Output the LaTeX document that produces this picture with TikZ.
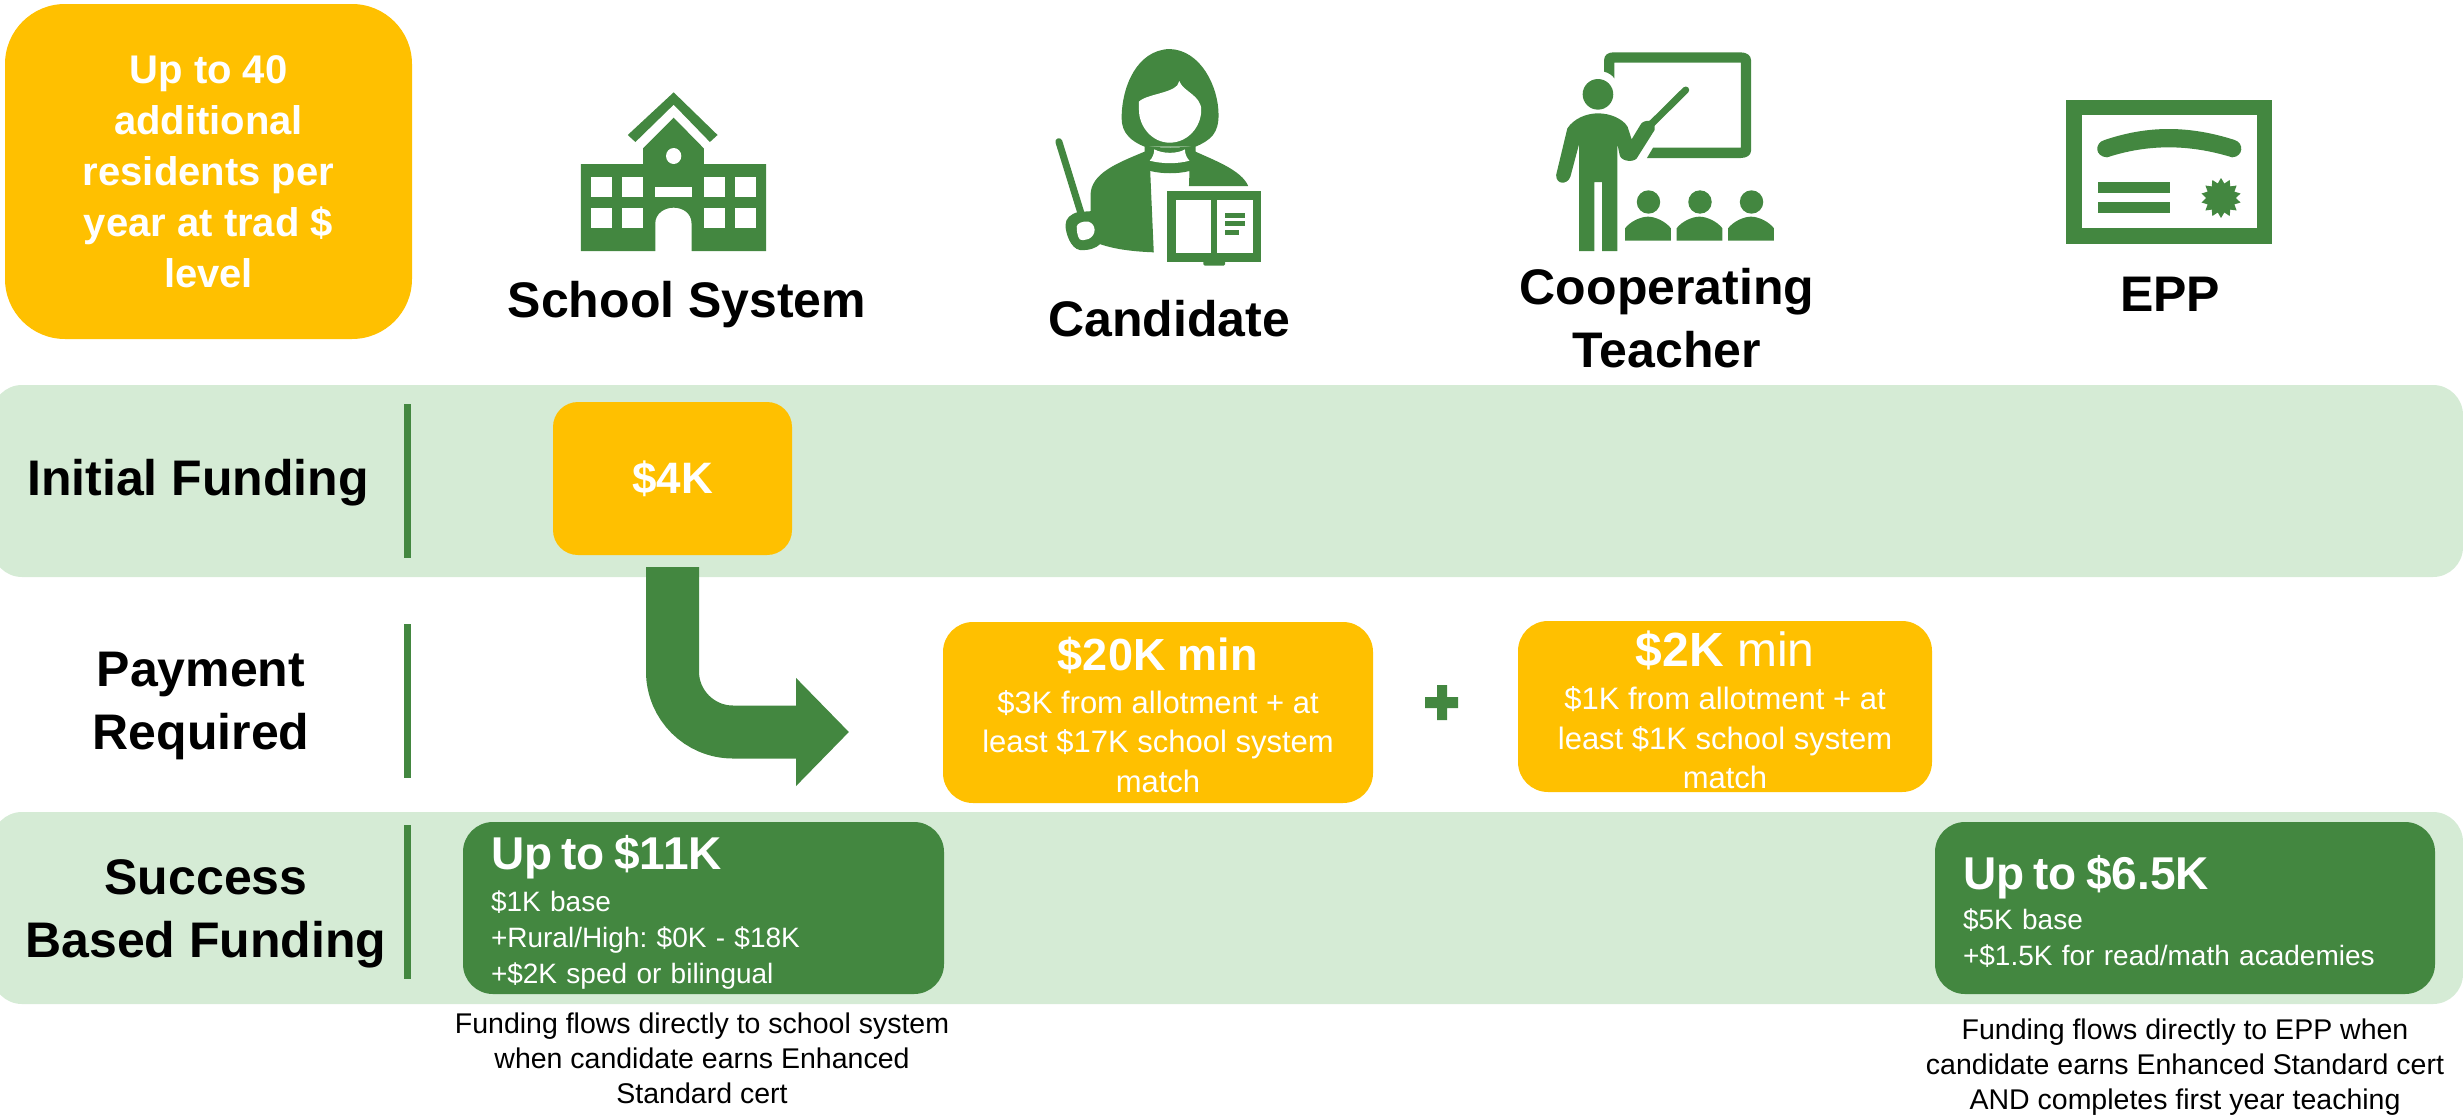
\documentclass[tikz,border=0pt]{standalone}
\usepackage{fontspec}
\setmainfont{Liberation Sans}
\usetikzlibrary{arrows.meta}
\usetikzlibrary{shapes.geometric}
\frenchspacing
\definecolor{leafgreen}{HTML}{438740}
\definecolor{paleband}{HTML}{D5EBD5}
\definecolor{amberbox}{HTML}{FFC000}
\tikzset{
  band/.style={fill=paleband,rounded corners=30,inner sep=0,minimum width=2471,minimum height=192},
  vbar/.style={fill=leafgreen,inner sep=0,minimum width=7,minimum height=154},
  amber/.style={fill=amberbox,text=white,inner sep=0,align=center,font=\fontsize{31}{39.5}\selectfont},
  leaf/.style={fill=leafgreen,text=white,inner sep=0,rounded corners=30,align=left,font=\fontsize{28}{36}\selectfont},
  title/.style={text=black,inner sep=0,align=center,font=\fontsize{50}{63}\selectfont\bfseries},
  note/.style={text=black,inner sep=0,align=center,font=\fontsize{28.5}{35}\selectfont},
  blockarrow/.style={draw=leafgreen,line width=53,rounded corners=60.5,-{Triangle[length=53pt,width=105pt,fill=leafgreen]}},
  icon/.style={fill=leafgreen,draw=none},
  hole/.style={fill=white,draw=none},
  iconframe/.style={xscale=800/1568,yscale=1/3},
}
\newcommand{\headtext}[2]{\rule{0pt}{#1pt}{\fontsize{46}{50}\selectfont\bfseries #2}}
\begin{document}
\begin{tikzpicture}[x=1pt,y=-1pt]
      \useasboundingbox (0,0) rectangle (2463,1114);

      \node[band] (bandinitial) at (1227.5,481) {};
      \node[band] (bandsuccess) at (1227.5,908) {};
      \node[vbar] (barinitial) at (407,481) {};
      \node[vbar] (barpayment) at (407,701) {};
      \node[vbar] (barsuccess) at (407,902) {};

      \node[amber,rounded corners=60,minimum width=407,minimum height=335,font=\fontsize{40}{51}\selectfont\bfseries] (residents) at (208.5,171.5) {Up to 40\\additional\\residents per\\year at trad \$\\level};

      \node[title] (lblschool) at (687,305) {School System};
      \node[title] (lblcandidate) at (1169,319) {Candidate};
      \node[title] (lblteacher) at (1667,318) {Cooperating\\Teacher};
      \node[title] (lblepp) at (2170,294) {EPP};
      \node[title] (lblinitial) at (198,483) {Initial Funding};
      \node[title] (lblpayment) at (201,706) {Payment\\Required};
      \node[title] (lblsuccess) at (206,914) {Success\\Based Funding};

      \node[amber,rounded corners=25,minimum width=239,minimum height=153,font=\fontsize{44}{50}\selectfont\bfseries] (fourk) at (672.5,478.5) {\$4K};
      \node[amber,rounded corners=30,minimum width=430,minimum height=181] (twentyk) at (1158,712.5) {\rule{0pt}{38pt}{\fontsize{45}{50}\selectfont\bfseries \$20K min}\\[3pt]\$3K from allotment + at\\least \$17K school system\\match};
      \node[amber,rounded corners=30,minimum width=414,minimum height=171] (twok) at (1725,706.5) {\rule{0pt}{42pt}{\fontsize{48}{50}\selectfont\textbf{\$2K} min}\\[4pt]\$1K from allotment + at\\least \$1K school system\\match};

      \coordinate (arrowtip) at (849,732);
      \draw[blockarrow] ([yshift=-12]fourk.south) |- (arrowtip);

      \fill[icon] (1425,697) rectangle (1458,708) (1437,685) rectangle (1447,720);

      \node[leaf,minimum width=481,minimum height=172,text width=425] (schoolfunds) at (703.5,908) {\headtext{42}{Up to \$11K}\\[6pt]\$1K base\\+Rural/High: \$0K - \$18K\\+\$2K sped or bilingual};
      \node[leaf,minimum width=500,minimum height=172,text width=444] (eppfunds) at (2185,908) {\headtext{40}{Up to \$6.5K}\\[4pt]\$5K base\\+\$1.5K for read/math academies};

      \node[note] (noteschool) at (702,1058) {Funding flows directly to school system\\when candidate earns Enhanced\\Standard cert};
      \node[note] (noteepp) at (2185,1067) {Funding flows directly to EPP when\\candidate earns Enhanced Standard cert\\AND completes first year teaching};

      \begin{scope}[shift={(540,30)},iconframe]
        \fill[icon] (262,187) -- (348,315) -- (333,336) -- (262,224) -- (187,336) -- (172,315) -- cycle;
        \fill[icon] (80,402) -- (202,402) -- (202,355) -- (262,263) -- (321,355) -- (321,402) -- (443,402) -- (443,663) -- (297,663) -- (297,580) .. controls (297,550) and (280,533) .. (262,533) .. controls (244,533) and (226,550) .. (226,580) -- (226,663) -- (80,663) -- cycle;
        \fill[hole] (262,378) ellipse (15 and 24);
        \fill[hole] (226,471) rectangle (297,501);
        \foreach \wx/\wy in {100/440,161/440,321/440,382/440,100/533,161/533,321/533,382/533}
          \fill[hole] (\wx,\wy) rectangle +(41,61);
      \end{scope}

      \begin{scope}[shift={(540,30)},iconframe]
        \fill[icon] (1234,57) .. controls (1170,60) and (1140,170) .. (1140,265) .. controls (1140,310) and (1160,335) .. (1185,350) -- (1285,350) .. controls (1315,330) and (1330,310) .. (1330,255) .. controls (1330,170) and (1295,60) .. (1234,57) -- cycle;
        \fill[hole] (1174,215) .. controls (1190,190) and (1250,190) .. (1253,153) .. controls (1260,185) and (1296,195) .. (1296,240) .. controls (1296,290) and (1270,338) .. (1234,338) .. controls (1200,338) and (1174,290) .. (1174,240) -- cycle;
        \fill[icon] (1185,345) -- (1185,365) .. controls (1130,400) and (1080,430) .. (1079,495) -- (1079,610) -- (1097,642) .. controls (1130,660) and (1170,665) .. (1203,667) -- (1196,423) .. controls (1220,432) and (1250,432) .. (1273,423) -- (1272,468) -- (1388,468) .. controls (1375,420) and (1320,390) .. (1285,365) -- (1285,345) .. controls (1270,355) and (1200,355) .. (1185,345) -- cycle;
        \fill[hole] (1204,358) .. controls (1220,372) and (1250,372) .. (1264,358) .. controls (1264,372) and (1268,385) .. (1273,392) .. controls (1250,402) and (1220,402) .. (1195,392) .. controls (1200,385) and (1204,372) .. (1204,358) -- cycle;
        \draw[leafgreen,line width=7,line cap=round] (1017,335) -- (1060,548);
        \fill[icon] (1055,546) -- (1085,543) -- (1098,642) .. controls (1090,655) and (1075,662) .. (1058,660) .. controls (1040,655) and (1030,610) .. (1030,585) .. controls (1030,565) and (1040,552) .. (1055,546) -- cycle;
        \fill[hole] (1052,590) .. controls (1052,580) and (1065,572) .. (1075,575) .. controls (1090,582) and (1092,615) .. (1075,627) .. controls (1070,630) and (1062,632) .. (1058,628) .. controls (1053,620) and (1052,600) .. (1052,590) -- cycle;
        \fill[icon] (1229,484) rectangle (1414,695);
        \fill[icon,rounded corners=1.5] (1300,690) rectangle (1343,707);
        \fill[hole] (1246,509) rectangle (1316,670);
        \fill[hole] (1327,509) rectangle (1397,670);
        \fill[icon] (1343,549) rectangle (1382,564);
        \fill[icon] (1343,573) rectangle (1382,588);
        \fill[icon] (1343,600) rectangle (1370,615);
      \end{scope}

      \begin{scope}[shift={(1500,30)},iconframe]
        \fill[icon] (204,125) -- (204,90) .. controls (204,75) and (212,67) .. (222,67) -- (472,67) .. controls (484,67) and (492,77) .. (492,90) -- (492,362) .. controls (492,375) and (484,384) .. (472,384) -- (288,384) -- (300,353) -- (472,353) -- (472,98) -- (224,98) -- (224,145) .. controls (220,135) and (212,128) .. (204,125) -- cycle;
        \fill[icon] (192,193) ellipse (30 and 46);
        \fill[icon] (132,295) .. controls (145,265) and (170,250) .. (192,250) .. controls (215,250) and (240,265) .. (250,290) -- (258,328) -- (275,285) .. controls (278,275) and (285,272) .. (295,272) -- (303,285) -- (303,300) -- (268,385) .. controls (262,397) and (240,395) .. (235,378) -- (230,342) -- (230,663) -- (200,663) -- (200,456) -- (185,456) -- (185,663) -- (155,663) -- (155,342) -- (138,440) .. controls (132,465) and (110,465) .. (110,435) -- cycle;
        \draw[leafgreen,line width=7,line cap=round] (298,280) -- (364,180);
        \foreach \dx in {0,101,202} {
          \fill[icon] (291+\dx,516) ellipse (23 and 35);
          \fill[icon] (245+\dx,632) -- (245+\dx,595) .. controls (255+\dx,575) and (275+\dx,560) .. (290+\dx,560) .. controls (305+\dx,560) and (325+\dx,575) .. (335+\dx,595) -- (335+\dx,632) -- cycle;
        }
      \end{scope}

      \begin{scope}[shift={(1500,30)},iconframe]
        \fill[icon] (1110,210) rectangle (1514,642);
        \fill[hole] (1141,256) rectangle (1484,595);
        \fill[icon] (1185,330) .. controls (1270,286) and (1350,286) .. (1440,330) .. controls (1458,338) and (1458,380) .. (1435,382) .. controls (1350,342) and (1270,342) .. (1190,382) .. controls (1165,380) and (1165,338) .. (1185,330) -- cycle;
        \fill[icon] (1172,456) rectangle (1313,489);
        \fill[icon] (1172,516) rectangle (1313,549);
      \end{scope}
      \node[icon,star,star points=14,star point ratio=1.35,inner sep=0,minimum size=40] (seal) at (2221,198) {};
    \end{tikzpicture}
\end{document}
